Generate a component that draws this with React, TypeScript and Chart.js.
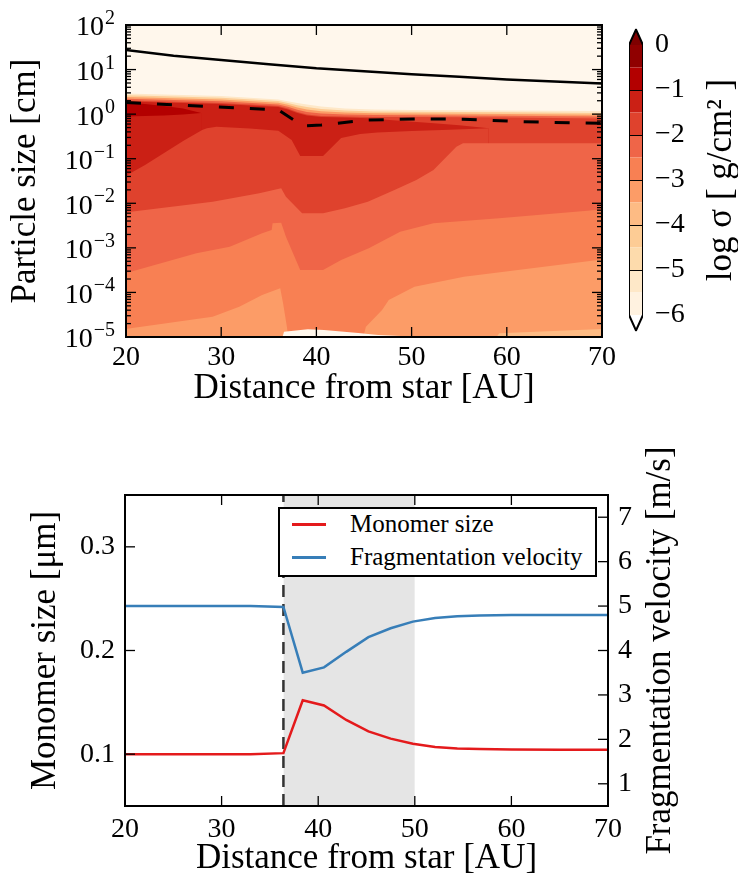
import React, { useEffect, useRef } from 'react';
import { Chart, registerables } from 'chart.js';

Chart.register(...registerables);

const SERIF = "'Liberation Serif', 'Times New Roman', serif";

// ================= TOP PANEL DATA =================
const DIST_TICKS = [20, 30, 40, 50, 60, 70];
const DIST_INNER_TICKS = [30, 40, 50, 60];
const SIZE_TICK_EXP = [-5, -4, -3, -2, -1, 0, 1, 2];

// solid black curve (cm)
const SOLID_X = [20, 25, 30, 35, 40, 45, 50, 55, 60, 65, 70];
const SOLID_CM = [27.5, 20.5, 16.3, 13.2, 10.7, 9.2, 7.9, 6.9, 6.0, 5.4, 4.9];

// dashed black curve (cm)
const DASHED_X = [20, 36, 38.6, 40.5, 45.4, 50.5, 55.4, 60.6, 65, 70];
const DASHED_CM = [1.82, 1.24, 0.54, 0.57, 0.74, 0.78, 0.77, 0.69, 0.65, 0.62];

// contour boundaries, log10(size / cm)
const TOP_X = [20, 30, 36, 37, 38, 39, 40.5, 43, 46, 50, 60, 70];
const EDGE_U55 = [0.463, 0.407, 0.328, 0.290, 0.250, 0.216, 0.171, 0.127, 0.104, 0.093, 0.082, 0.070];
const EDGE_U45 = [0.424, 0.368, 0.293, 0.250, 0.199, 0.160, 0.118, 0.082, 0.061, 0.054, 0.042, 0.028];
const EDGE_U35 = [0.385, 0.328, 0.256, 0.208, 0.149, 0.104, 0.065, 0.037, 0.020, 0.014, 0.003, -0.014];
const EDGE_U25 = [0.345, 0.289, 0.219, 0.167, 0.098, 0.048, 0.012, -0.008, -0.022, -0.025, -0.036, -0.055];
const EDGE_U20 = [0.306, 0.250, 0.183, 0.127, 0.048, -0.008, -0.042, -0.053, -0.064, -0.064, -0.075, -0.098];

const EDGE_U15_X = [20, 30, 36, 37, 38, 39, 40.5, 43, 45.4, 48, 52, 55, 58.1];
const EDGE_U15 = [0.284, 0.228, 0.160, 0.104, 0.026, -0.031, -0.064, -0.075, -0.093, -0.136, -0.199, -0.248, -0.318];

const WEDGE_X = [20, 22, 24, 26, 27.9];
const WEDGE_TOP = [0.261, 0.228, 0.183, 0.127, 0.026];
const WEDGE_BOTTOM = [-0.053, -0.042, -0.031, -0.008, 0.026];

const EDGE_L15_X = [20, 20.5, 22, 24, 26, 28, 28.5, 29.5, 33, 36, 37.4, 38.3, 40.7, 42.6, 44.6, 46.4, 50, 54, 58.1];
const EDGE_L15 = [-1.388, -1.321, -1.141, -0.872, -0.603, -0.356, -0.318, -0.282, -0.322, -0.372, -0.58, -0.939, -0.939, -0.535, -0.446, -0.41, -0.378, -0.349, -0.318];

const EDGE_L20_X = [20, 20.5, 29.1, 34.0, 36.3, 36.8, 38.5, 40.7, 43.0, 45.4, 48.2, 50.5, 52.3, 54.7, 55.4, 58.8, 70];
const EDGE_L20 = [-2.202, -2.189, -1.965, -1.776, -1.664, -1.852, -2.225, -2.225, -2.113, -1.965, -1.702, -1.478, -1.253, -0.731, -0.654, -0.654, -0.654];

const EDGE_L25_X = [20, 20.5, 27.4, 30.9, 34.3, 35.3, 35.4, 36.3, 36.8, 38.3, 40.7, 42.6, 45.5, 48.8, 52.3, 59.2, 70];
const EDGE_L25 = [-3.564, -3.535, -3.122, -2.974, -2.674, -2.6, -2.449, -2.436, -2.75, -3.497, -3.497, -3.273, -3.01, -2.638, -2.449, -2.337, -2.14];

const EDGE_L30A_X = [20, 20.5, 29.1, 31.9, 34.3, 36.2, 36.5, 36.9, 37.1];
const EDGE_L30A = [-4.821, -4.805, -4.545, -4.32, -4.058, -3.908, -4.244, -4.769, -5.1];
const EDGE_L30B_X = [44.8, 45.2, 46.9, 47.6, 50.3, 55.5, 70];
const EDGE_L30B = [-5.1, -4.769, -4.394, -4.17, -3.872, -3.647, -3.261];

const EDGE_L35_X = [58.6, 59.2, 70];
const EDGE_L35 = [-5.1, -4.917, -4.821];

const HOLE_X = [36.3, 36.6, 39.1, 40.8, 44.4, 46.5, 48.9, 49.5];
const HOLE = [-5.1, -4.881, -4.828, -4.843, -4.91, -4.955, -4.978, -5.1];

// colorbar
const CB_LEVELS = [-6, -5.5, -5, -4.5, -4, -3.5, -3, -2.5, -2, -1.5, -1, -0.5, 0];
const CB_TICKS = [-6, -5, -4, -3, -2, -1, 0];
const CB_INNER = [-5, -4, -3, -2, -1];

// ================= BOTTOM PANEL DATA =================
const DIST_SIM = [20, 25, 30, 33, 36.4, 38.4, 40.6, 42.9, 45.2, 47.5, 49.8, 52.1, 54.4, 56.7, 60, 65, 70];
const MONOMER_UM = [0.1, 0.1, 0.1, 0.1, 0.101, 0.152, 0.147, 0.133, 0.122, 0.115, 0.11, 0.107, 0.1055, 0.105, 0.1045, 0.1042, 0.1042];
const VFRAG_MS = [5.0, 5.0, 5.0, 5.0, 4.98, 3.5, 3.62, 3.97, 4.3, 4.5, 4.65, 4.73, 4.77, 4.79, 4.8, 4.8, 4.8];
const SHADE_RANGE = [36.4, 50];
const SNOWLINE_AU = 36.4;
const MONO_TICKS = [0.1, 0.2, 0.3];
const VFRAG_TICKS = [1, 2, 3, 4, 5, 6, 7];

// ================= STYLES =================
const C = {
  under: '#fff7ec',
  m55: '#fee8c8',
  m45: '#fdcc95',
  m40: '#fdbb84',
  m35: '#fc9c67',
  m30: '#f88053',
  m25: '#ef6548',
  m20: '#df422d',
  m15: '#cb2015',
  m10: '#b30000',
  over: '#7f0000',
};
const CB_COLORS = ['#fff2e0', '#fee8c8', '#fddbac', '#fdcc95', '#fdbb84', '#fc9c67', '#f88053', '#ef6548', '#df422d', '#cb2015', '#b30000', '#900000'];
const RED = '#e41a1c';
const BLUE = '#377eb8';

const pts = (xs: number[], ys: number[]) => xs.map((x, i) => ({ x, y: ys[i] }));
const logPts = (xs: number[], ls: number[]) => xs.map((x, i) => ({ x, y: Math.pow(10, ls[i]) }));

type Side = { side: 'left' | 'right' | 'top' | 'bottom'; scale: string; major: number[]; minor?: number[] };

function framePlugin(sides: Side[], frameWidth: number, majorLen: number, minorLen: number) {
  return {
    id: 'frameTicks',
    afterDatasetsDraw(chart: any) {
      const { ctx, chartArea: a } = chart;
      ctx.save();
      ctx.strokeStyle = '#000';
      ctx.lineWidth = 1.3;
      for (const s of sides) {
        const sc = chart.scales[s.scale];
        const mark = (vals: number[], len: number) => {
          for (const v of vals) {
            const p = sc.getPixelForValue(v);
            ctx.beginPath();
            if (s.side === 'bottom') { ctx.moveTo(p, a.bottom); ctx.lineTo(p, a.bottom - len); }
            else if (s.side === 'top') { ctx.moveTo(p, a.top); ctx.lineTo(p, a.top + len); }
            else if (s.side === 'left') { ctx.moveTo(a.left, p); ctx.lineTo(a.left + len, p); }
            else { ctx.moveTo(a.right, p); ctx.lineTo(a.right - len, p); }
            ctx.stroke();
          }
        };
        mark(s.major, majorLen);
        if (s.minor) mark(s.minor, minorLen);
      }
      ctx.lineWidth = frameWidth;
      ctx.strokeRect(a.left, a.top, a.right - a.left, a.bottom - a.top);
      ctx.restore();
    },
  };
}

function rotatedTitle(text: string, x: number, size: number) {
  return {
    id: 'rotTitle',
    afterDraw(chart: any) {
      const { ctx, chartArea: a } = chart;
      ctx.save();
      ctx.translate(x, (a.top + a.bottom) / 2);
      ctx.rotate(-Math.PI / 2);
      ctx.font = `${size}px ${SERIF}`;
      ctx.fillStyle = '#000';
      ctx.textAlign = 'center';
      ctx.textBaseline = 'middle';
      ctx.fillText(text, 0, 0);
      ctx.restore();
    },
  };
}

const areaBg = (color: string) => ({
  id: 'areaBg',
  beforeDatasetsDraw(chart: any) {
    const { ctx, chartArea: a } = chart;
    ctx.save();
    ctx.fillStyle = color;
    ctx.fillRect(a.left, a.top, a.right - a.left, a.bottom - a.top);
    ctx.restore();
  },
});

const powerLabels = {
  id: 'powerLabels',
  afterDraw(chart: any) {
    const { ctx } = chart;
    const y = chart.scales.y;
    const right = 115;
    ctx.save();
    ctx.fillStyle = '#000';
    for (const e of SIZE_TICK_EXP) {
      const py = y.getPixelForValue(Math.pow(10, e));
      const exp = e < 0 ? '\u2212' + Math.abs(e) : String(e);
      ctx.font = `20px ${SERIF}`;
      const ew = ctx.measureText(exp).width;
      ctx.textAlign = 'left';
      ctx.textBaseline = 'alphabetic';
      ctx.fillText(exp, right - ew, py - 1);
      ctx.font = `28px ${SERIF}`;
      ctx.textAlign = 'right';
      ctx.textBaseline = 'middle';
      ctx.fillText('10', right - ew - 1, py + 3);
    }
    ctx.restore();
  },
};

function logMinor(): number[] {
  const out: number[] = [];
  for (let n = -5; n < 2; n++) for (let k = 2; k <= 9; k++) out.push(k * Math.pow(10, n));
  return out;
}

function region(xs: number[], ls: number[], color: string, order: number) {
  return {
    data: logPts(xs, ls),
    borderWidth: 0,
    borderColor: 'transparent',
    backgroundColor: color,
    fill: 'start',
    pointRadius: 0,
    pointHoverRadius: 0,
    order,
  };
}

function topConfig(): any {
  const regions: [number[], number[], string][] = [
    [TOP_X, EDGE_U55, C.m55],
    [TOP_X, EDGE_U45, C.m45],
    [TOP_X, EDGE_U35, C.m35],
    [TOP_X, EDGE_U25, C.m25],
    [TOP_X, EDGE_U20, C.m20],
    [EDGE_U15_X, EDGE_U15, C.m15],
    [WEDGE_X, WEDGE_TOP, C.m10],
    [WEDGE_X, WEDGE_BOTTOM, C.m15],
    [EDGE_L15_X, EDGE_L15, C.m20],
    [EDGE_L20_X, EDGE_L20, C.m25],
    [EDGE_L25_X, EDGE_L25, C.m30],
    [EDGE_L30A_X, EDGE_L30A, C.m35],
    [EDGE_L30B_X, EDGE_L30B, C.m35],
    [EDGE_L35_X, EDGE_L35, C.m40],
    [HOLE_X, HOLE, C.under],
  ];
  const n = regions.length;
  const datasets: any[] = regions.map((r, i) => region(r[0], r[1], r[2], 100 + n - i));
  datasets.push({
    data: pts(SOLID_X, SOLID_CM), borderColor: '#000', borderWidth: 2.5, fill: false, pointRadius: 0, order: 2,
  });
  datasets.push({
    data: pts(DASHED_X, DASHED_CM), borderColor: '#000', borderWidth: 3, borderDash: [15, 16], fill: false, pointRadius: 0, order: 1,
  });
  const minor = logMinor();
  const majors = SIZE_TICK_EXP.map((e) => Math.pow(10, e));
  return {
    type: 'line',
    data: { datasets },
    options: {
      animation: false,
      responsive: false,
      events: [],
      layout: { padding: { left: 0, top: 25, right: 12, bottom: 0 } },
      plugins: { legend: { display: false }, tooltip: { enabled: false } },
      scales: {
        x: {
          type: 'linear', min: 20, max: 70,
          afterBuildTicks: (s: any) => { s.ticks = DIST_TICKS.map((v) => ({ value: v })); },
          afterFit: (s: any) => { s.height = 83; },
          grid: { display: false, drawTicks: false },
          border: { display: false },
          ticks: { color: '#000', font: { family: SERIF, size: 28 }, padding: 4, maxRotation: 0, callback: (v: any) => String(v) },
          title: { display: true, text: 'Distance from star [AU]', color: '#000', font: { family: SERIF, size: 35 }, padding: { top: 0, bottom: 10 } },
        },
        y: {
          type: 'logarithmic', min: 1e-5, max: 1e2,
          afterBuildTicks: (s: any) => { s.ticks = majors.map((v) => ({ value: v })); },
          afterFit: (s: any) => { s.width = 126; },
          grid: { display: false, drawTicks: false },
          border: { display: false },
          ticks: { display: false },
          title: { display: true, text: 'Particle size [cm]', color: '#000', font: { family: SERIF, size: 35 }, padding: { top: 5, bottom: 0 } },
        },
      },
    },
    plugins: [
      areaBg(C.under),
      framePlugin([
        { side: 'bottom', scale: 'x', major: DIST_INNER_TICKS },
        { side: 'top', scale: 'x', major: DIST_INNER_TICKS },
        { side: 'left', scale: 'y', major: majors, minor },
        { side: 'right', scale: 'y', major: majors, minor },
      ], 2, 10, 5),
      powerLabels,
    ],
  };
}

function colorbarConfig(): any {
  const datasets: any[] = [];
  for (let i = 0; i < CB_COLORS.length; i++) {
    datasets.push({
      data: [{ x: 0, y: CB_LEVELS[i + 1] }, { x: 1, y: CB_LEVELS[i + 1] }],
      borderWidth: 0, borderColor: 'transparent', backgroundColor: CB_COLORS[i],
      fill: { value: CB_LEVELS[i] }, pointRadius: 0, order: 50,
    });
  }
  const top = CB_LEVELS[CB_LEVELS.length - 1];
  const bot = CB_LEVELS[0];
  const ext = 0.345;
  datasets.push({
    data: [{ x: 0, y: top }, { x: 0.5, y: top + ext }, { x: 1, y: top }],
    borderWidth: 0, borderColor: 'transparent', backgroundColor: C.over, fill: { value: top }, pointRadius: 0, order: 40,
  });
  datasets.push({
    data: [{ x: 0, y: bot }, { x: 0.5, y: bot - ext }, { x: 1, y: bot }],
    borderWidth: 0, borderColor: 'transparent', backgroundColor: '#ffffff', fill: { value: bot }, pointRadius: 0, order: 40,
  });
  datasets.push({
    data: [
      { x: 0, y: bot }, { x: 0, y: top }, { x: 0.5, y: top + ext }, { x: 1, y: top },
      { x: 1, y: bot }, { x: 0.5, y: bot - ext }, { x: 0, y: bot },
    ],
    borderWidth: 2, borderColor: '#000', fill: false, pointRadius: 0, order: 1,
  });
  return {
    type: 'line',
    data: { datasets },
    options: {
      animation: false,
      responsive: false,
      events: [],
      layout: { padding: { left: 29, top: 24, right: 0, bottom: 20 } },
      plugins: { legend: { display: false }, tooltip: { enabled: false } },
      scales: {
        x: { type: 'linear', min: 0, max: 1, display: false },
        y: {
          type: 'linear', position: 'right', min: -6.36, max: 0.36,
          afterBuildTicks: (s: any) => { s.ticks = CB_TICKS.map((v) => ({ value: v })); },
          afterFit: (s: any) => { s.width = 95; },
          grid: { display: false, drawTicks: false },
          border: { display: false },
          ticks: { color: '#000', font: { family: SERIF, size: 28 }, padding: 12, callback: (v: any) => (v === 0 ? '0' : '\u2212' + Math.abs(v)) },
        },
      },
    },
    plugins: [
      {
        id: 'cbLines',
        afterDatasetsDraw(chart: any) {
          const { ctx, chartArea: a } = chart;
          const y = chart.scales.y;
          ctx.save();
          ctx.strokeStyle = '#000';
          ctx.lineWidth = 1;
          for (const v of CB_INNER) {
            const p = Math.round(y.getPixelForValue(v)) + 0.5;
            ctx.beginPath();
            ctx.moveTo(a.left, p);
            ctx.lineTo(a.right, p);
            ctx.stroke();
          }
          ctx.restore();
        },
      },
      rotatedTitle('log \u03c3 [ g/cm\u00b2 ]', 122, 35),
    ],
  };
}

function bottomConfig(): any {
  return {
    type: 'line',
    data: {
      datasets: [
        { label: 'Monomer size', data: pts(DIST_SIM, MONOMER_UM), yAxisID: 'y', borderColor: RED, borderWidth: 2.5, pointRadius: 0, fill: false, order: 1 },
        { label: 'Fragmentation velocity', data: pts(DIST_SIM, VFRAG_MS), yAxisID: 'y2', borderColor: BLUE, borderWidth: 2.5, pointRadius: 0, fill: false, order: 2 },
        { data: [{ x: SNOWLINE_AU, y: 0.05 }, { x: SNOWLINE_AU, y: 0.35 }], yAxisID: 'y', borderColor: '#333333', borderWidth: 2.5, borderDash: [12, 7], pointRadius: 0, fill: false, order: 3 },
        { data: [{ x: SHADE_RANGE[0], y: 0.35 }, { x: SHADE_RANGE[1], y: 0.35 }], yAxisID: 'y', borderWidth: 0, borderColor: 'transparent', backgroundColor: '#e5e5e5', fill: 'start', pointRadius: 0, order: 4 },
      ],
    },
    options: {
      animation: false,
      responsive: false,
      events: [],
      layout: { padding: { left: 0, top: 55, right: 0, bottom: 0 } },
      plugins: { legend: { display: false }, tooltip: { enabled: false } },
      scales: {
        x: {
          type: 'linear', min: 20, max: 70,
          afterBuildTicks: (s: any) => { s.ticks = DIST_TICKS.map((v) => ({ value: v })); },
          afterFit: (s: any) => { s.height = 85; },
          grid: { display: false, drawTicks: false },
          border: { display: false },
          ticks: { color: '#000', font: { family: SERIF, size: 28 }, padding: 7, maxRotation: 0, callback: (v: any) => String(v) },
          title: { display: true, text: 'Distance from star [AU]', color: '#000', font: { family: SERIF, size: 35 }, padding: { top: 0, bottom: 11 } },
        },
        y: {
          type: 'linear', position: 'left', min: 0.05, max: 0.35,
          afterBuildTicks: (s: any) => { s.ticks = MONO_TICKS.map((v) => ({ value: v })); },
          afterFit: (s: any) => { s.width = 125; },
          grid: { display: false, drawTicks: false },
          border: { display: false },
          ticks: { color: '#000', font: { family: SERIF, size: 28 }, padding: 10, callback: (v: any) => Number(v).toFixed(1) },
          title: { display: true, text: 'Monomer size [\u03bcm]', color: '#000', font: { family: SERIF, size: 35 }, padding: { top: 25, bottom: 0 } },
        },
        y2: {
          type: 'linear', position: 'right', min: 0.5, max: 7.5,
          afterBuildTicks: (s: any) => { s.ticks = VFRAG_TICKS.map((v) => ({ value: v })); },
          afterFit: (s: any) => { s.width = 130; },
          grid: { display: false, drawTicks: false },
          border: { display: false },
          ticks: { color: '#000', font: { family: SERIF, size: 28 }, padding: 10, callback: (v: any) => String(v) },
        },
      },
    },
    plugins: [
      framePlugin([
        { side: 'bottom', scale: 'x', major: DIST_INNER_TICKS },
        { side: 'top', scale: 'x', major: DIST_INNER_TICKS },
        { side: 'left', scale: 'y', major: MONO_TICKS },
        { side: 'right', scale: 'y2', major: VFRAG_TICKS },
      ], 2, 10, 5),
      rotatedTitle('Fragmentation velocity [m/s]', 661, 35),
    ],
  };
}

export default function App() {
  const topRef = useRef<HTMLCanvasElement>(null);
  const cbRef = useRef<HTMLCanvasElement>(null);
  const botRef = useRef<HTMLCanvasElement>(null);

  useEffect(() => {
    const charts: Chart[] = [];
    if (topRef.current) charts.push(new Chart(topRef.current, topConfig()));
    if (cbRef.current) charts.push(new Chart(cbRef.current, colorbarConfig()));
    if (botRef.current) charts.push(new Chart(botRef.current, bottomConfig()));
    return () => charts.forEach((c) => c.destroy());
  }, []);

  const legendRow = (color: string, label: string, top: number) => (
    <div style={{ position: 'absolute', left: 0, top, width: '100%', height: 30 }}>
      <div style={{ position: 'absolute', left: 12, top: 14, width: 34, height: 3, background: color }} />
      <div style={{ position: 'absolute', left: 70, top: 0, height: 30, lineHeight: '30px', whiteSpace: 'nowrap' }}>{label}</div>
    </div>
  );

  return (
    <div style={{ position: 'absolute', left: 0, top: 0, width: 738, height: 891, background: '#fff', overflow: 'hidden' }}>
      <canvas ref={topRef} width={620} height={420} style={{ position: 'absolute', left: 0, top: 0, width: 620, height: 420 }} />
      <canvas ref={cbRef} width={138} height={360} style={{ position: 'absolute', left: 600, top: 0, width: 138, height: 360 }} />
      <canvas ref={botRef} width={738} height={451} style={{ position: 'absolute', left: 0, top: 440, width: 738, height: 451 }} />
      <div
        style={{
          position: 'absolute', left: 278, top: 507, width: 319, height: 70, boxSizing: 'border-box',
          border: '2px solid #000', background: '#fff', fontFamily: SERIF, fontSize: 25, color: '#000',
        }}
      >
        {legendRow(RED, 'Monomer size', 0)}
        {legendRow(BLUE, 'Fragmentation velocity', 33)}
      </div>
    </div>
  );
}
